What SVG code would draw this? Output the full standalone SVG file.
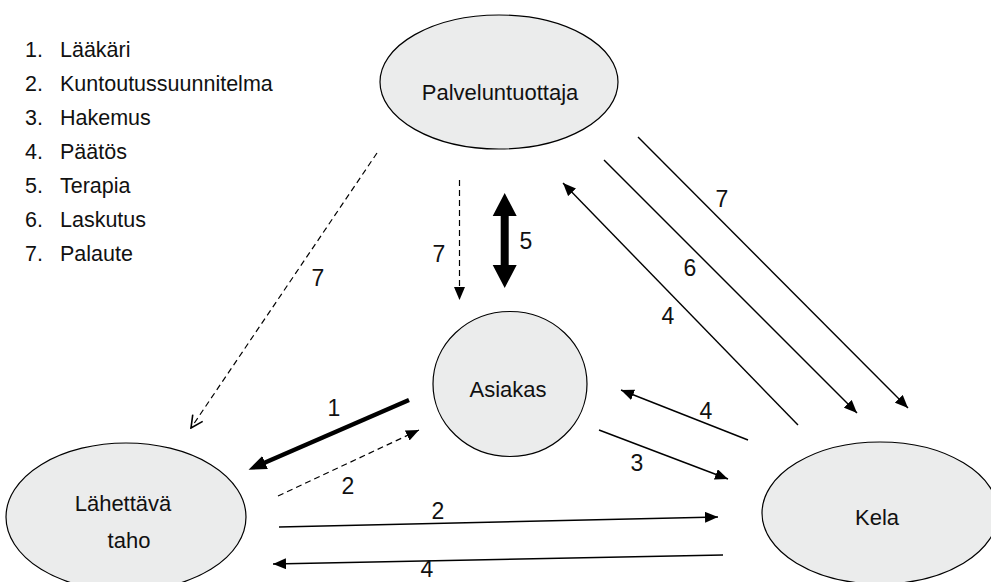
<svg xmlns="http://www.w3.org/2000/svg" width="991" height="582" viewBox="0 0 991 582">
<style>
.node{fill:#ebecec;stroke:#000;stroke-width:1.2}
.t{font-family:"Liberation Sans",Arial,sans-serif;font-size:21.5px;fill:#111}
.lbl{font-family:"Liberation Sans",Arial,sans-serif;font-size:22px;fill:#111;text-anchor:middle}
.n{font-family:"Liberation Sans",Arial,sans-serif;font-size:23px;fill:#111;text-anchor:middle}
.c{fill:none;stroke:#000;stroke-width:1.4}
.d{fill:none;stroke:#000;stroke-width:1.2;stroke-dasharray:6 4}
</style>
<defs>
<marker id="a" markerUnits="userSpaceOnUse" markerWidth="13" markerHeight="11" refX="13" refY="5.5" orient="auto" viewBox="0 0 13 11">
<path d="M0,0 L13,5.5 L0,11 z" fill="#000"/>
</marker>
<marker id="ab" markerUnits="userSpaceOnUse" markerWidth="18" markerHeight="14" refX="5" refY="7" orient="auto" viewBox="0 0 18 14">
<path d="M0,0 L18,7 L0,14 z" fill="#000"/>
</marker>
<marker id="av" markerUnits="userSpaceOnUse" markerWidth="14" markerHeight="14" refX="13" refY="7" orient="auto" viewBox="0 0 14 14">
<path d="M1,1 L13,7 L1,13" fill="none" stroke="#000" stroke-width="1.6"/>
</marker>
</defs>
<rect width="991" height="582" fill="#fff"/>

<g id="legend">
<text class="t" x="25" y="57">1.</text><text class="t" x="60" y="57">Lääkäri</text>
<text class="t" x="25" y="91">2.</text><text class="t" x="60" y="91">Kuntoutussuunnitelma</text>
<text class="t" x="25" y="125">3.</text><text class="t" x="60" y="125">Hakemus</text>
<text class="t" x="25" y="159">4.</text><text class="t" x="60" y="159">Päätös</text>
<text class="t" x="25" y="193">5.</text><text class="t" x="60" y="193">Terapia</text>
<text class="t" x="25" y="227">6.</text><text class="t" x="60" y="227">Laskutus</text>
<text class="t" x="25" y="261">7.</text><text class="t" x="60" y="261">Palaute</text>
</g>

<g id="palveluntuottaja">
<ellipse class="node" cx="499" cy="82" rx="119" ry="67"/>
<text class="lbl" x="500" y="100">Palveluntuottaja</text>
</g>
<g id="asiakas">
<ellipse class="node" cx="510" cy="384" rx="77" ry="72.5"/>
<text class="lbl" x="508" y="397">Asiakas</text>
</g>
<g id="lahettava">
<ellipse class="node" cx="126" cy="517" rx="120" ry="74"/>
<text class="lbl" x="123" y="511">Lähettävä</text>
<text class="lbl" x="129" y="548">taho</text>
</g>
<g id="kela">
<ellipse class="node" cx="880" cy="513" rx="118" ry="71"/>
<text class="lbl" x="877" y="525">Kela</text>
</g>

<g id="connectors">
<line x1="409" y1="400" x2="260.5" y2="464.5" stroke="#000" stroke-width="4.5" marker-end="url(#ab)"/>
<text class="n" x="334" y="416">1</text>
<line class="d" x1="278" y1="496" x2="419" y2="430" marker-end="url(#a)"/>
<text class="n" x="348" y="494">2</text>
<line class="c" x1="279" y1="527" x2="718" y2="517" marker-end="url(#a)"/>
<text class="n" x="438" y="519">2</text>
<line class="c" x1="723" y1="555" x2="273" y2="564" marker-end="url(#a)"/>
<text class="n" x="427" y="577">4</text>
<line class="c" x1="599" y1="430" x2="728" y2="479" marker-end="url(#a)"/>
<text class="n" x="637" y="471">3</text>
<line class="c" x1="748" y1="440" x2="621" y2="390" marker-end="url(#a)"/>
<text class="n" x="706" y="419">4</text>
<line class="c" x1="638" y1="137" x2="908" y2="408" marker-end="url(#a)"/>
<text class="n" x="722" y="207">7</text>
<line class="c" x1="604" y1="160" x2="857" y2="413" marker-end="url(#a)"/>
<text class="n" x="690" y="276">6</text>
<line class="c" x1="798" y1="425" x2="563" y2="183" marker-end="url(#a)"/>
<text class="n" x="668" y="324">4</text>
<line class="d" x1="459.5" y1="180" x2="459.5" y2="300" marker-end="url(#a)"/>
<text class="n" x="439" y="262">7</text>
<path d="M504.7,193 L516.7,216 L508.7,216 L508.7,265 L516.7,265 L504.7,288 L492.7,265 L500.7,265 L500.7,216 L492.7,216 z" fill="#000"/>
<text class="n" x="526" y="249">5</text>
<line class="d" x1="377" y1="153" x2="191" y2="428" marker-end="url(#av)"/>
<text class="n" x="318" y="286">7</text>
</g>
</svg>
